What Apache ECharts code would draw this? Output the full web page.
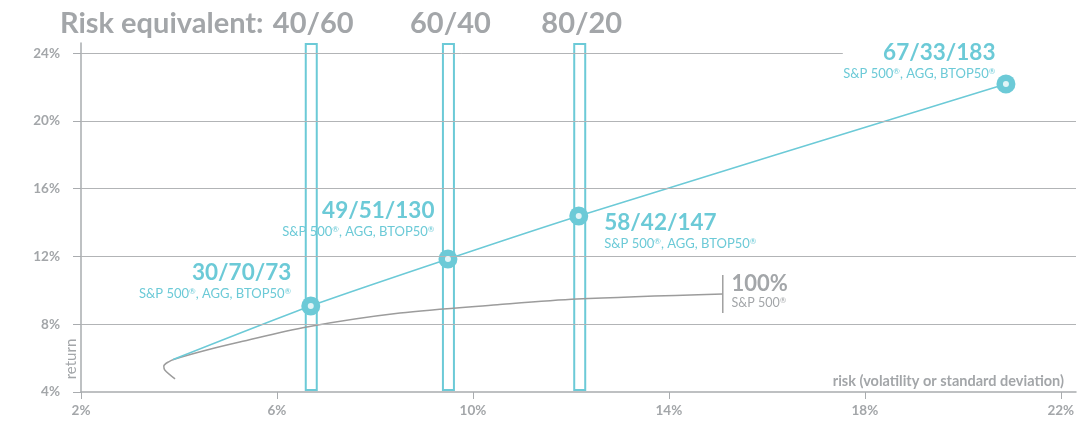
<!DOCTYPE html>
<html>
<head>
<meta charset="utf-8">
<script src="https://cdn.jsdelivr.net/npm/echarts@6/dist/echarts.min.js"></script>
<style>
  html, body { margin: 0; padding: 0; background: #fff; }
  #chart { width: 1088px; height: 423px; }
</style>
</head>
<body>
<div id="chart"></div>
<script>
// axis ticks
var xTicks = [2, 6, 10, 14, 18, 22];
var yTicks = [4, 8, 12, 16, 20, 24];

// blended portfolios (risk, return)
var mixRisk = [3.88, 6.69, 9.49, 12.16, 20.88];
var mixReturn = [5.92, 9.08, 11.85, 14.39, 22.18];
var mixNames = ['', '30/70/73', '49/51/130', '58/42/147', '67/33/183'];

// S&P 500 / AGG frontier
var spxRisk = [3.92, 3.71, 3.69, 3.78, 3.92, 4.57, 5.24, 6.61, 8.51, 10.5, 12.12, 15.10];
var spxReturn = [4.77, 5.30, 5.53, 5.77, 5.95, 6.48, 6.95, 7.84, 8.66, 9.15, 9.49, 9.79];

// risk equivalent columns
var equivRisk = [6.70, 9.50, 12.18];
var equivNames = ['40/60', '60/40', '80/20'];

var blue = '#6ccad7';
var grayText = '#a3a6a9';
var gridGray = '#b2b4b6';
var font = 'Lato, "Noto Sans", sans-serif';

var chart = echarts.init(document.getElementById('chart'));

// label placement for each blended point
var mixLabels = [
    null,
    { position: 'left', align: 'right', verticalAlign: 'bottom', offset: [-5, -4] },
    { position: 'left', align: 'right', verticalAlign: 'bottom', offset: [1, -19] },
    { position: 'right', align: 'left', verticalAlign: 'top', offset: [11, -6] },
    { position: 'left', align: 'right', verticalAlign: 'bottom', offset: [4, -2] }
];

var richBlue = {
    t: { fontFamily: font, fontWeight: 'bold', fontSize: 22.5, color: blue, lineHeight: 26 },
    s: { fontFamily: font, fontSize: 13, color: blue, lineHeight: 16 },
    r: { fontFamily: font, fontSize: 8, color: blue, lineHeight: 16, padding: [0, 0, 6, 0] }
};

var subText = '{s|S&P 500}{r|®}{s|, AGG, BTOP50}{r|®}';

var mixData = mixRisk.map(function (r, i) {
    var item = { value: [r, mixReturn[i]] };
    if (!mixLabels[i]) {
        item.symbol = 'none';
    } else {
        var l = mixLabels[i];
        item.label = {
            show: true,
            position: l.position,
            align: l.align,
            verticalAlign: l.verticalAlign,
            offset: l.offset,
            formatter: '{t|' + mixNames[i] + '}\n' + subText,
            rich: richBlue
        };
    }
    return item;
});

// white centre dots of the markers
var dotData = mixRisk.map(function (r, i) {
    return [r, mixReturn[i]];
}).slice(1);

var spxData = spxRisk.map(function (r, i) {
    var item = { value: [r, spxReturn[i]], symbol: 'none' };
    if (i === spxRisk.length - 1) {
        item.symbol = 'rect';
        item.symbolSize = [1.5, 38];
        item.itemStyle = { color: '#a0a0a0' };
        item.label = {
            show: true,
            position: 'right',
            align: 'left',
            verticalAlign: 'middle',
            offset: [3, -2.5],
            formatter: '{t|100%}\n{s|S&P 500}{r|®}',
            rich: {
                t: { fontFamily: font, fontWeight: 'bold', fontSize: 22, color: grayText, lineHeight: 24 },
                s: { fontFamily: font, fontSize: 12.5, color: grayText, lineHeight: 16 },
                r: { fontFamily: font, fontSize: 8, color: grayText, lineHeight: 16, padding: [0, 0, 6, 0] }
            }
        };
    }
    return item;
});

var yMax = 24.6;

var option = {
    animation: false,
    grid: { left: 81, right: 12, top: 43, bottom: 31 },
    xAxis: {
        type: 'value',
        min: 2,
        max: 22.31,
        splitLine: { show: false },
        axisLine: { lineStyle: { color: '#a9acaf', width: 1.5 } },
        axisTick: { show: true, length: 7, customValues: xTicks, lineStyle: { color: '#a9acaf' } },
        axisLabel: {
            customValues: xTicks,
            formatter: '{value}%',
            margin: 12,
            color: grayText,
            fontFamily: font,
            fontWeight: 'bold',
            fontSize: 13.5
        }
    },
    yAxis: {
        type: 'value',
        min: 4,
        max: yMax,
        splitLine: { show: false },
        axisLine: { show: true, lineStyle: { color: '#a9acaf', width: 1.5 } },
        axisTick: { show: true, length: 8, customValues: yTicks, lineStyle: { color: '#a9acaf' } },
        axisLabel: {
            customValues: yTicks,
            formatter: '{value}%',
            margin: 21,
            color: grayText,
            fontFamily: font,
            fontWeight: 'bold',
            fontSize: 13.5
        }
    },
    graphic: [
        {
            type: 'text', x: 60, y: 24,
            style: { text: 'Risk equivalent:', font: 'bold 29px ' + font, fill: grayText, verticalAlign: 'middle' }
        },
        {
            type: 'text', x: 71, y: 359, rotation: Math.PI / 2,
            style: { text: 'return', font: '15px ' + font, fill: grayText, align: 'center', verticalAlign: 'middle' }
        },
        {
            type: 'text', x: 1064, y: 381,
            style: { text: 'risk (volatility or standard deviation)', font: 'bold 14.5px ' + font, fill: grayText, align: 'right', verticalAlign: 'middle' }
        }
    ],
    series: [
        {
            // grid lines
            type: 'line',
            data: [],
            z: 1,
            silent: true,
            markLine: {
                silent: true,
                symbol: 'none',
                label: { show: false },
                lineStyle: { color: gridGray, width: 1, type: 'solid' },
                data: [
                    { yAxis: 8 }, { yAxis: 12 }, { yAxis: 16 }, { yAxis: 20 },
                    [{ coord: [2, 24] }, { coord: [17.55, 24] }]
                ]
            }
        },
        {
            // risk equivalent columns
            type: 'custom',
            z: 2,
            data: equivRisk,
            renderItem: function (params, api) {
                var x = api.value(0);
                var bottom = api.coord([x, 4]);
                var top = api.coord([x, yMax]);
                return {
                    type: 'group',
                    children: [
                        {
                            type: 'rect',
                            shape: { x: bottom[0] - 5.5, y: top[1] + 1, width: 11, height: bottom[1] - top[1] - 3 },
                            style: { fill: '#fff', stroke: blue, lineWidth: 2 }
                        },
                        {
                            type: 'text',
                            style: {
                                text: equivNames[params.dataIndex],
                                x: bottom[0] + 2, y: top[1] - 19,
                                align: 'center', verticalAlign: 'middle',
                                font: 'bold 29px ' + font, fill: grayText
                            }
                        }
                    ]
                };
            }
        },
        {
            name: 'S&P 500',
            type: 'line',
            z: 3,
            smooth: 0.3,
            data: spxData,
            lineStyle: { color: '#9c9c9c', width: 1.5 }
        },
        {
            name: 'Blend',
            type: 'line',
            z: 4,
            smooth: 0.25,
            data: mixData,
            symbol: 'circle',
            symbolSize: 19,
            showAllSymbol: true,
            itemStyle: { color: blue },
            lineStyle: { color: blue, width: 1.5 }
        },
        {
            type: 'scatter',
            z: 5,
            silent: true,
            data: dotData,
            symbol: 'circle',
            symbolSize: 6,
            itemStyle: { color: '#fff' }
        }
    ]
};

chart.setOption(option);
</script>
</body>
</html>
